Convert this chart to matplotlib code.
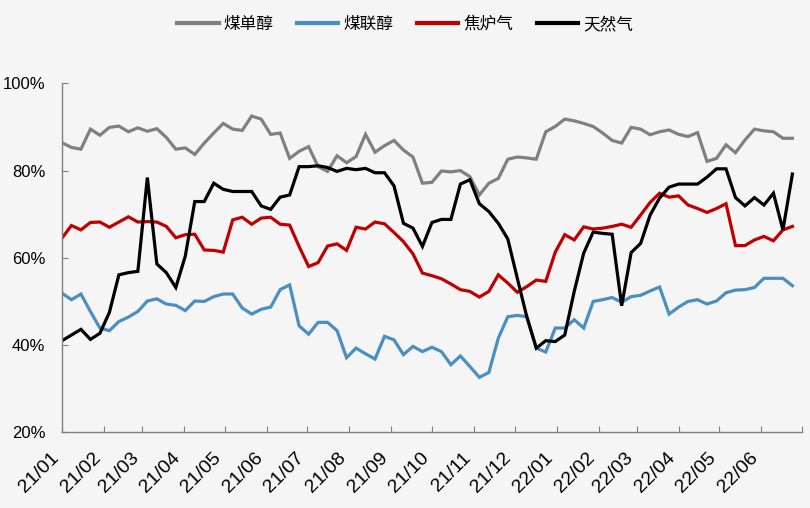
import matplotlib
matplotlib.use('Agg')
import matplotlib.pyplot as plt
import matplotlib.transforms as mtransforms
import numpy as np
import pandas as pd

# weekly operating rates (%), 2021-01-01 onwards
dates = pd.date_range('2021-01-01', periods=78, freq='7D')

coal_single = [86.4, 85.3, 84.9, 89.5, 88.1, 89.9, 90.2, 88.9, 89.8, 89.0, 89.6, 87.6, 84.9, 85.2, 83.7, 86.3, 88.6, 90.8, 89.5, 89.2,
               92.5, 91.8, 88.3, 88.6, 82.8, 84.4, 85.5, 80.9, 79.8, 83.4, 81.8, 83.2, 88.3, 84.2, 85.7, 86.9, 84.7, 83.1, 77.1,
               77.3, 79.9, 79.7, 80.0, 78.6, 74.4, 77.1, 78.2, 82.6, 83.1, 82.9, 82.6, 88.9, 90.1, 91.8, 91.4, 90.8, 90.1, 88.6, 86.9,
               86.3, 89.9, 89.5, 88.2, 88.9, 89.3, 88.3, 87.8, 88.7, 82.1, 82.8, 85.9, 84.1, 87.0, 89.5, 89.1, 88.9, 87.4, 87.4]
coal_joint = [51.9, 50.4, 51.7, 47.7, 43.9, 43.3, 45.4, 46.4, 47.7, 50.1, 50.6, 49.4, 49.1, 47.9, 50.1, 50.0, 51.1, 51.7, 51.7, 48.5,
              47.1, 48.2, 48.7, 52.7, 53.8, 44.4, 42.5, 45.2, 45.2, 43.3, 37.1, 39.3, 38.0, 36.8, 42.0, 41.2, 37.8, 39.7, 38.5,
              39.5, 38.5, 35.5, 37.5, 35.1, 32.6, 33.7, 41.6, 46.5, 46.8, 46.5, 39.3, 38.4, 43.9, 43.9, 45.8, 43.9, 50.0, 50.4, 50.9,
              49.8, 51.1, 51.4, 52.4, 53.3, 47.1, 48.7, 50.0, 50.4, 49.4, 50.1, 52.0, 52.6, 52.7, 53.2, 55.3, 55.3, 55.3, 53.6]
coke_gas = [64.5, 67.4, 66.4, 68.1, 68.2, 67.0, 68.2, 69.4, 68.2, 68.3, 68.2, 67.2, 64.6, 65.3, 65.4, 61.8, 61.7, 61.3, 68.7, 69.3,
            67.7, 69.1, 69.3, 67.7, 67.5, 62.6, 58.0, 58.9, 62.7, 63.2, 61.7, 67.0, 66.6, 68.2, 67.8, 65.8, 63.7, 60.9, 56.5,
            55.9, 55.2, 54.0, 52.7, 52.3, 51.0, 52.3, 56.1, 54.2, 52.1, 53.4, 54.9, 54.6, 61.3, 65.3, 64.1, 67.1, 66.6, 66.8, 67.2,
            67.7, 67.0, 69.8, 72.7, 74.8, 73.9, 74.2, 72.1, 71.3, 70.4, 71.3, 72.4, 62.8, 62.8, 64.1, 64.9, 63.9, 66.4, 67.2]
natural_gas = [41.0, 42.3, 43.6, 41.3, 42.7, 47.5, 56.1, 56.6, 56.9, 78.4, 58.6, 56.6, 53.2, 60.4, 72.9, 72.9, 77.1, 75.7, 75.2, 75.2,
               75.2, 71.9, 71.1, 73.9, 74.4, 80.9, 80.9, 81.1, 80.7, 79.8, 80.5, 80.2, 80.5, 79.5, 79.5, 76.5, 67.9, 66.8, 62.6,
               68.1, 68.8, 68.8, 76.9, 77.9, 72.4, 70.6, 67.9, 64.3, 55.3, 46.5, 39.3, 41.0, 40.8, 42.3, 52.3, 61.1, 65.9, 65.6, 65.4,
               49.0, 61.2, 63.3, 69.8, 73.7, 76.2, 76.9, 76.9, 76.9, 78.5, 80.4, 80.4, 73.8, 71.9, 73.8, 72.1, 74.8, 66.4, 79.2]

series_names = ['煤单醇', '煤联醇', '焦炉气', '天然气']
series_colors = ['#808080', '#4a8fc0', '#c00000', '#000000']

month_ticks = pd.date_range('2021-01-01', '2022-07-01', freq='MS')
month_labels = ['21/01', '21/02', '21/03', '21/04', '21/05', '21/06', '21/07', '21/08', '21/09',
                '21/10', '21/11', '21/12', '22/01', '22/02', '22/03', '22/04', '22/05', '22/06', '']
y_ticks = [20, 40, 60, 80, 100]

bg = '#f5f5f5'
tick_font = ['Liberation Sans Narrow', 'Liberation Sans', 'DejaVu Sans']
cjk_font = ['Noto Sans CJK SC', 'DejaVu Sans']

fig = plt.figure(figsize=(8.1, 5.08), dpi=100, facecolor=bg)
ax = fig.add_axes([0.0765, 0.149, 0.9135, 0.687], facecolor=bg)

for vals, name, col in zip([coal_single, coal_joint, coke_gas, natural_gas], series_names, series_colors):
    ax.plot(dates, vals, color=col, linewidth=2.3, label=name, solid_joinstyle='miter')

ax.set_xlim(month_ticks[0], month_ticks[-1])
ax.set_ylim(20, 100)
ax.set_xticks(month_ticks)
ax.set_xticklabels(month_labels, rotation=45, ha='right', fontsize=14, family=tick_font)
ax.set_yticks(y_ticks)
ax.set_yticklabels([f'{v}%' for v in y_ticks], fontsize=12, family=tick_font)

# nudge the rotated month labels a little to the right, like the original
shift = mtransforms.ScaledTranslation(5 / 72, 0, fig.dpi_scale_trans)
for lbl in ax.get_xticklabels():
    lbl.set_transform(lbl.get_transform() + shift)

for side in ['top', 'right']:
    ax.spines[side].set_visible(False)
for side in ['left', 'bottom']:
    ax.spines[side].set_color('#808080')
    ax.spines[side].set_linewidth(1.0)
ax.tick_params(axis='both', direction='in', length=4, color='#808080', width=0.8)
ax.tick_params(axis='y', pad=12)
ax.tick_params(axis='x', pad=12)

leg = fig.legend(loc='upper center', bbox_to_anchor=(0.5, 0.998), ncol=4, frameon=False,
                 prop={'family': cjk_font, 'size': 12}, handlelength=2.5, handletextpad=0.3,
                 columnspacing=1.4)
for h in leg.get_lines():
    h.set_linewidth(3)

fig.savefig('out.png', dpi=100, facecolor=bg)
